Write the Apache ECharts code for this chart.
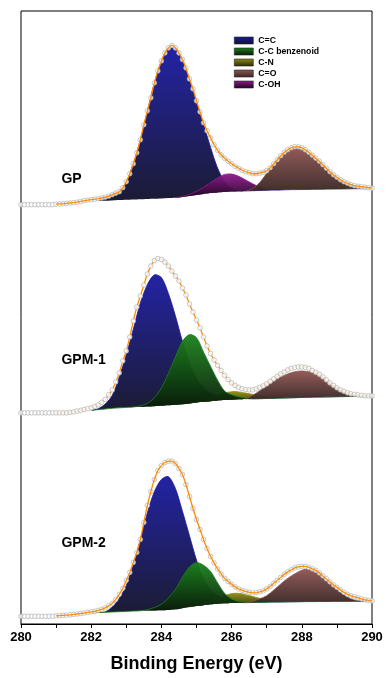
<!DOCTYPE html>
<html>
<head>
<meta charset="utf-8">
<script src="https://cdn.jsdelivr.net/npm/echarts@6/dist/echarts.min.js"></script>
<style>
  html, body { margin: 0; padding: 0; background: #fff; }
  #xpsChart_div { width: 386px; height: 678px; }
</style>
</head>
<body>
<div id="xpsChart_div"></div>
<script>
// measured points: 280.0 .. 290.0 every 0.1 eV
var E_START = 280, E_STEP = 0.1;
// fitted components + background: 281.0 .. 290.0 every 0.2 eV
var C_START = 281, C_STEP = 0.2;

var xTicks = [280, 282, 284, 286, 288, 290];
var compNames = ['C=C', 'C-C benzenoid', 'C-N', 'C=O', 'C-OH'];
var drawOrder = ['C=C', 'C-N', 'C-C benzenoid', 'C-OH', 'C=O'];

// ---- GP ----
var gpData = [0,0,0,0,0,0,0,0,0,0,
  0.5,0.8,1,1.3,1.7,2,2.5,3.2,4,4.5,
  5,5.5,6,6.7,7.5,8.5,10,11.5,13,17,
  23,31,41,52,65,80,94,107,122,134,
  144,152,157,159.5,157,152,145.5,137,126,116,
  104,93,82,74,67,60,54.5,50,46.5,43.5,
  41,38.5,36.5,34.5,33,32,31,31,31.5,32.5,
  34,37,41,45,49,52.5,55,57,58,58,
  57,55,52.5,49.5,46.5,43.5,40,36.5,33,30,
  27.5,25,23,21.5,20,19,18.5,18,17.5,17,
  16.5];
var gpBg = [0.5,1,1.5,2.2,3,3.5,3.8,4,4.3,4.6,
  4.9,5.2,5.5,5.8,6,6.3,6.6,7,7.8,8.8,
  9.8,10.8,11.6,12.3,12.8,13.2,13.5,13.8,14,14.2,
  14.4,14.6,14.8,15,15.1,15.2,15.3,15.4,15.5,15.6,
  15.7,15.8,15.9,16,16.1,16.2];
var gpCC = [null,null,null,null,null,null,0,3.5,5.7,8.4,
  18,36,59.5,88,116,137.5,149.5,149,136,116,
  93,70,46,24.5,10.5,3,0.5,0,0,0,
  0,0,0,0,0,0,0,0,0,0,
  0,0,0,0,0,0];
var gpCOH = [null,null,null,null,null,null,null,null,null,null,
  null,null,null,null,null,null,null,0,0.5,1.5,
  3.5,6.5,10.5,14.5,17.5,17.5,15,11,7,3.5,
  1.5,0.5,0,null,null,null,null,null,null,null,
  null,null,null,null,null,null];
var gpCO = [null,null,null,null,null,null,null,null,null,null,
  null,null,null,null,null,null,null,null,null,null,
  null,null,null,null,null,null,null,0,2,8,
  17,26,34,40,43,42,37,31.5,24.5,17.5,
  11.8,7,4,2,1,0];

// ---- GPM-1 ----
var gpm1Data = [0,0,0,0,0,0,0,0,0,0,
  0,0,0,0,0.5,1,1.8,2.5,3.3,4.2,
  5,6.5,8,10.5,13.5,18,23,31,40,52,
  62,76,92,106,117,128,139,147,152.5,154.5,
  153.5,151,147,142,137,132,125,118,109,101,
  93,85,76,67,59.5,53,47.5,42.5,37.5,33.5,
  30,27.5,25.5,24.2,23.3,23,23,24,25.5,27,
  29,31.5,34,36.5,39,41,43,44.5,45.5,46,
  46,45.5,44.5,42.5,40.5,38.5,36,33,30,27.5,
  25,23,21.5,20,19,18.5,18,17.5,17,17,
  17];
var gpm1Bg = [0,0.2,0.5,1.2,2,2.5,3.2,3.8,4.5,5,
  5.4,5.8,6.1,6.4,6.7,7,7.5,8,8.6,9.4,
  10.3,11,11.7,12.3,12.8,13.2,13.5,13.8,14,14.2,
  14.4,14.6,14.8,15,15.2,15.4,15.6,15.8,15.9,16,
  16.2,16.3,16.4,16.5,16.6,16.7];
var gpm1CC = [null,null,null,null,null,0,1,5,13,31,
  53,78,104,122,131.5,128.5,112,89,63,41,
  24,14,8,5,3,2,1,0.5,0,0,
  0,0,0,0,0,0,0,0,0,0,
  0,0,0,0,0,0];
var gpm1CCb = [null,null,null,null,null,0,0,0,0,0,
  0,0,1,3,8.5,18,32,48,63,69,
  65,50,35,20.5,9,5,2.5,1,0.3,0,
  0,0,0,0,0,0,0,0,0,0,
  0,0,0,0,0,0];
var gpm1CN = [null,null,null,null,null,null,null,null,null,null,
  null,null,null,null,null,null,null,null,0,0.5,
  1,2,3.5,5.5,7,8,7.5,6,4.5,3,
  1.8,0.8,0.3,0,null,null,null,null,null,null,
  null,null,null,null,null,null];
var gpm1CO = [null,null,null,null,null,null,null,null,null,null,
  null,null,null,null,null,null,null,null,null,null,
  null,null,null,null,null,null,null,0,3.5,8,
  12.5,17.5,21,24,26,26.5,25.5,23.5,19.5,14,
  9.5,5,2.5,1,0.3,0];

// ---- GPM-2 ----
var gpm2Data = [0,0,0,0,0,0,0,0,0,0,
  0.5,0.7,1,1.2,1.5,1.9,2.3,2.8,3.3,3.9,
  4.5,5,6,7,8.5,10.5,13,17,22,28,
  36,44,54,64,77,94,111,125,137,146,
  151,154,155.5,155.5,153,148,142,132,120,108,
  97,87,77,68,60,53.5,47.5,42.5,38,35,
  32,29.5,27.5,26,25,24,23.5,23.5,24.5,25.5,
  27.5,30,33,36,39,42,44.5,46.5,48.5,49.5,
  50,50,49,47.5,46,43.5,40.5,37.5,34.5,31.5,
  29,26.5,24,22,20.5,19.5,18.5,17.5,16.5,16,
  15.5];
var gpm2Bg = [0.5,1,1.5,2.2,3,3.5,3.8,4,4.3,4.6,
  4.9,5.2,5.5,5.7,5.9,6.1,6.4,7,8.2,9.3,
  10.3,11.2,12,12.6,13,13.3,13.5,13.7,13.9,14.1,
  14.2,14.3,14.4,14.5,14.6,14.7,14.8,14.8,14.9,14.9,
  15,15,15.1,15.1,15.2,15.2];
var gpm2CC = [null,null,null,null,null,null,0,0.5,5,13.5,
  26,47,71.5,98,119,131,133.5,121,97,71.5,
  46,26,15,8.5,4,1.5,0.5,0,0,0,
  0,0,0,0,0,0,0,0,0,0,
  0,0,0,0,0,0];
var gpm2CCb = [null,null,null,null,null,0,0,0,0,0,
  0,0,0,1,3,6,12,20,31,40,
  43.5,40,33,21,10,4,1.5,0.5,0,0,
  0,0,0,0,0,0,0,0,0,0,
  0,0,0,0,0,0];
var gpm2CN = [null,null,null,null,null,null,null,null,null,null,
  null,null,null,null,null,null,null,null,null,0,
  1,2,3,5,7.5,9.5,9.5,8,6,4,
  2.5,1.3,0.5,0,null,null,null,null,null,null,
  null,null,null,null,null,null];
var gpm2CO = [null,null,null,null,null,null,null,null,null,null,
  null,null,null,null,null,null,null,null,null,null,
  null,null,null,null,null,null,null,0,1,3.5,
  6.5,12,18,23.5,28,31.5,32.5,30,25,18.5,
  12,6.5,2.5,0.5,0,0];

// ---- layout / styles ----
var compColors = { 'C=C': '#1a1aa0', 'C-C benzenoid': '#1c821c', 'C-N': '#8f8d12', 'C=O': '#8e5552', 'C-OH': '#901a90' };
var compShades = { 'C=C': '#12122c', 'C-C benzenoid': '#081808', 'C-N': '#2a2806', 'C=O': '#3a2726', 'C-OH': '#1e061e' };

var panels = [
  { label: 'GP', off: 420, labelY: 26, data: gpData, bg: gpBg, fitOnTop: true,
    comps: { 'C=C': gpCC, 'C-OH': gpCOH, 'C=O': gpCO } },
  { label: 'GPM-1', off: 211.5, labelY: 53, data: gpm1Data, bg: gpm1Bg, fitOnTop: false,
    comps: { 'C=C': gpm1CC, 'C-C benzenoid': gpm1CCb, 'C-N': gpm1CN, 'C=O': gpm1CO } },
  { label: 'GPM-2', off: 7.7, labelY: 73.5, data: gpm2Data, bg: gpm2Bg, fitOnTop: true,
    comps: { 'C=C': gpm2CC, 'C-C benzenoid': gpm2CCb, 'C-N': gpm2CN, 'C=O': gpm2CO } }
];
var labelE = 281.15;
var FONT = '"Liberation Sans", Arial, sans-serif';

function shade(name) {
  return new echarts.graphic.LinearGradient(0, 0, 0, 1, [
    { offset: 0, color: compColors[name] },
    { offset: 1, color: compShades[name] }
  ]);
}

function bandRows(off, bg, vals) {
  var rows = [];
  for (var i = 0; i < vals.length; i++) {
    if (vals[i] == null) continue;
    var e = +(C_START + i * C_STEP).toFixed(1);
    rows.push([e, off + bg[i], off + bg[i] + vals[i]]);
  }
  return rows;
}

function pointRows(off, vals, from) {
  var rows = [];
  for (var i = 0; i < vals.length; i++) {
    var e = +(E_START + i * E_STEP).toFixed(1);
    if (e < from) continue;
    rows.push([e, off + vals[i]]);
  }
  return rows;
}

// one filled band between background and component, drawn once per series
function renderBand(name) {
  return function (params, api) {
    if (params.dataIndexInside !== 0) return;
    var top = [], bottom = [];
    for (var j = 0; j < params.dataInsideLength; j++) {
      var e = api.value(0, j);
      top.push(api.coord([e, api.value(2, j)]));
      bottom.push(api.coord([e, api.value(1, j)]));
    }
    return {
      type: 'group',
      children: [
        { type: 'polygon', shape: { points: top.concat(bottom.slice().reverse()), smooth: 0.3 },
          style: { fill: shade(name), opacity: 0.96 } },
        { type: 'polyline', shape: { points: top, smooth: 0.3 },
          style: { stroke: compColors[name], lineWidth: 0.8, fill: null } }
      ]
    };
  };
}

var series = [];
panels.forEach(function (p) {
  drawOrder.forEach(function (name) {
    if (!p.comps[name]) return;
    series.push({
      type: 'custom', name: name, silent: true, z: 2,
      itemStyle: { color: compColors[name] },
      renderItem: renderBand(name),
      encode: { x: 0, y: [1, 2] },
      data: bandRows(p.off, p.bg, p.comps[name])
    });
  });
  series.push({
    type: 'scatter', name: 'data', silent: true, z: 4,
    data: pointRows(p.off, p.data, 280),
    symbol: 'circle', symbolSize: 4.6,
    itemStyle: { color: '#fff', borderColor: '#b0b0b0', borderWidth: 0.9 }
  });
  series.push({
    type: 'line', name: 'fit', silent: true, z: p.fitOnTop ? 5 : 3,
    data: pointRows(p.off, p.data, 281),
    showSymbol: false, smooth: 0.3,
    lineStyle: { color: '#ff8c00', width: 1.3 }
  });
});

series.push({
  type: 'scatter', name: 'tags', silent: true, z: 6,
  symbolSize: 0.1, itemStyle: { color: '#000', opacity: 1 },
  data: panels.map(function (p) { return { name: p.label, value: [labelE, p.off + p.labelY] }; }),
  label: {
    show: true, position: 'right', distance: 0, formatter: '{b}',
    color: '#000', opacity: 1, fontWeight: 'bold', fontSize: 14, fontFamily: FONT
  }
});

var myChart = echarts.init(document.getElementById('xpsChart_div'));
myChart.setOption({
  animation: false,
  backgroundColor: '#fff',
  grid: { left: 21, right: 14, top: 11, bottom: 53, show: true, borderColor: '#000', borderWidth: 1 },
  legend: {
    orient: 'vertical', left: 234, top: 36, padding: 0,
    itemWidth: 19, itemHeight: 7, itemGap: 2, icon: 'rect',
    selectedMode: false,
    textStyle: { color: '#000', fontSize: 8.7, fontWeight: 'bold', fontFamily: FONT },
    data: compNames.map(function (n) {
      return { name: n, itemStyle: { color: shade(n), borderColor: '#222', borderWidth: 0.6 } };
    })
  },
  xAxis: {
    type: 'value',
    min: xTicks[0], max: xTicks[xTicks.length - 1], interval: xTicks[1] - xTicks[0],
    name: 'Binding Energy (eV)', nameLocation: 'middle', nameGap: 31,
    nameTextStyle: { color: '#000', fontSize: 18, fontWeight: 'bold', fontFamily: FONT },
    axisLine: { lineStyle: { color: '#000', width: 1 } },
    axisTick: { length: 4, lineStyle: { color: '#000' } },
    minorTick: { show: true, splitNumber: 2, length: 4, lineStyle: { color: '#000' } },
    axisLabel: { color: '#000', fontSize: 13, fontWeight: 'bold', fontFamily: FONT, margin: 7 },
    splitLine: { show: false }
  },
  yAxis: { type: 'value', min: 0, max: 614, show: false },
  series: series
});
</script>
</body>
</html>
